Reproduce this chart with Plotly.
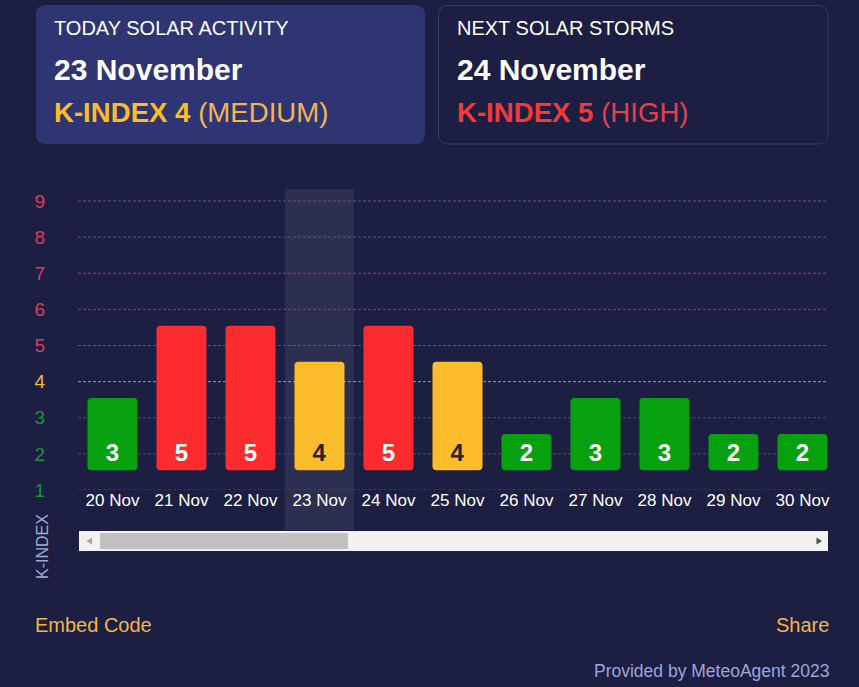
import plotly.graph_objects as go

# ---------------- data ----------------
dates = ["20 Nov", "21 Nov", "22 Nov", "23 Nov", "24 Nov", "25 Nov",
         "26 Nov", "27 Nov", "28 Nov", "29 Nov", "30 Nov"]
k_index = [3, 5, 5, 4, 5, 4, 2, 3, 3, 2, 2]
today = "23 Nov"
y_ticks = [1, 2, 3, 4, 5, 6, 7, 8, 9]

today_title = "TODAY SOLAR ACTIVITY"
today_date = "23 November"
today_k = 4
today_level = "MEDIUM"
next_title = "NEXT SOLAR STORMS"
next_date = "24 November"
next_k = 5
next_level = "HIGH"

# ---------------- style ----------------
FONT = "Liberation Sans, Arial, sans-serif"
BG = "#1c1f42"
CARD = "#2f3572"
CARD_BORDER = "#353a6c"
GREEN, YELLOW, RED = "#07a00f", "#fcbc2c", "#fc2b2e"
TICK_GREEN, TICK_YELLOW, TICK_RED = "#1f8f3f", "#f5b941", "#dc3c5a"
GRID_LOW, GRID_MED, GRID_HIGH = "#4a4e76", "#9597b3", "#80447a"

FIG_W, FIG_H = 859, 687
M_L, M_R, M_T, M_B = 78, 31, 189, 197
PW = FIG_W - M_L - M_R
PH = FIG_H - M_T - M_B
PLOT_BOTTOM = FIG_H - M_B

Y_RANGE = [1, 9.332]
BAR_SHIFT = 0.55
BAR_BASE = 1
X_RANGE = [-0.5, 10.37]


def level(k):
    return "low" if k <= 3 else ("med" if k == 4 else "high")


bar_col = {"low": GREEN, "med": YELLOW, "high": RED}
txt_col = {"low": "#ffffff", "med": "#2a2420", "high": "#ffffff"}
tick_col = {"low": TICK_GREEN, "med": TICK_YELLOW, "high": TICK_RED}
grid_col = {"low": GRID_LOW, "med": GRID_MED, "high": GRID_HIGH}


def px(x):
    return (x - M_L) / PW


def py(y):
    return (PLOT_BOTTOM - y) / PH


def rrect(x0, y0, x1, y1, r):
    pts = [
        ("M", [(x0 + r, y0)]), ("L", [(x1 - r, y0)]), ("Q", [(x1, y0), (x1, y0 + r)]),
        ("L", [(x1, y1 - r)]), ("Q", [(x1, y1), (x1 - r, y1)]),
        ("L", [(x0 + r, y1)]), ("Q", [(x0, y1), (x0, y1 - r)]),
        ("L", [(x0, y0 + r)]), ("Q", [(x0, y0), (x0 + r, y0)]),
    ]
    s = ""
    for cmd, ps in pts:
        s += cmd + " " + " ".join(f"{px(a):.5f},{py(b):.5f}" for a, b in ps) + " "
    return s + "Z"


def tri(points):
    return "M " + " L ".join(f"{px(a):.5f},{py(b):.5f}" for a, b in points) + " Z"


fig = go.Figure()

fig.add_trace(go.Bar(
    x=dates,
    y=[k - BAR_BASE for k in k_index],
    base=BAR_BASE,
    yaxis="y2",
    width=0.725,
    marker=dict(color=[bar_col[level(k)] for k in k_index], line=dict(width=0)),
    text=[str(k) for k in k_index],
    textposition="inside",
    insidetextanchor="start",
    textangle=0,
    constraintext="none",
    textfont=dict(family=FONT, size=24, weight="bold",
                  color=[txt_col[level(k)] for k in k_index]),
    hoverinfo="skip",
    showlegend=False,
))

shapes = []
# highlight band for today's column
ti = dates.index(today)
bx0 = (ti - 0.5 - X_RANGE[0]) / (X_RANGE[1] - X_RANGE[0])
bx1 = (ti + 0.5 - X_RANGE[0]) / (X_RANGE[1] - X_RANGE[0])
shapes.append(dict(type="rect", xref="paper", yref="paper", x0=bx0, x1=bx1,
                   y0=py(530), y1=1, fillcolor="rgba(255,255,255,0.075)",
                   line=dict(width=0), layer="below"))
# dashed gridlines coloured by level
for t in y_ticks:
    shapes.append(dict(type="line", xref="paper", yref="y", x0=0, x1=1, y0=t, y1=t,
                       line=dict(color=grid_col[level(t)], width=1, dash="3px,2px"),
                       layer="below"))
# cards
shapes.append(dict(type="path", xref="paper", yref="paper", path=rrect(36, 5, 425, 144, 10),
                   fillcolor=CARD, line=dict(width=0), layer="below"))
shapes.append(dict(type="path", xref="paper", yref="paper", path=rrect(438.5, 5.5, 828, 144, 10),
                   fillcolor="rgba(0,0,0,0)", line=dict(color=CARD_BORDER, width=1), layer="below"))
# scrollbar
shapes.append(dict(type="rect", xref="paper", yref="paper", x0=px(79), x1=px(828),
                   y0=py(551), y1=py(531), fillcolor="#f1f1f1", line=dict(width=0), layer="above"))
shapes.append(dict(type="rect", xref="paper", yref="paper", x0=px(100), x1=px(348),
                   y0=py(549), y1=py(533), fillcolor="#c1c1c1", line=dict(width=0), layer="above"))
shapes.append(dict(type="path", xref="paper", yref="paper",
                   path=tri([(86.5, 541), (92, 537.5), (92, 544.5)]),
                   fillcolor="#a3a3a3", line=dict(width=0), layer="above"))
shapes.append(dict(type="path", xref="paper", yref="paper",
                   path=tri([(822, 541), (816.5, 537.5), (816.5, 544.5)]),
                   fillcolor="#505050", line=dict(width=0), layer="above"))

annotations = []


def ann(text, x, y, size, color, xanchor="left", bold=False, angle=0):
    annotations.append(dict(
        text=f"<b>{text}</b>" if bold else text, xref="paper", yref="paper",
        x=px(x), y=py(y), xanchor=xanchor, yanchor="middle", showarrow=False,
        font=dict(family=FONT, size=size, color=color), textangle=angle))


ann(today_title, 52, 27.5, 20, "#ffffff")
ann(today_date, 52, 70, 30, "#ffffff", bold=True)
ann(f"<b>K-INDEX {today_k}</b> <span style='color:#f0b656'>({today_level})</span>",
    52, 113, 27.6, YELLOW)
ann(next_title, 455, 27.5, 20, "#ffffff")
ann(next_date, 455, 70, 30, "#ffffff", bold=True)
ann(f"<b>K-INDEX {next_k}</b> <span style='color:#e3404f'>({next_level})</span>",
    455, 113, 27.6, "#f23a3a")
ann("K-INDEX", 42, 547, 16, "#a3a9dc", xanchor="center", angle=-90)
ann("Embed Code", 33, 625, 20, "#f5b63f")
ann("Share", 831, 625, 20, "#f5b63f", xanchor="right")
ann("Provided by MeteoAgent 2023", 831, 671, 17.5, "#9ea5df", xanchor="right")

fig.update_layout(
    width=FIG_W, height=FIG_H,
    margin=dict(l=M_L, r=M_R, t=M_T, b=M_B, pad=0),
    paper_bgcolor=BG, plot_bgcolor="rgba(0,0,0,0)",
    font=dict(family=FONT, color="#ffffff"),
    showlegend=False,
    barcornerradius=4,
    shapes=shapes,
    annotations=annotations,
    xaxis=dict(type="category", range=X_RANGE, showgrid=False, zeroline=False,
               showline=False, ticks="", ticklabelstandoff=-2,
               tickfont=dict(family=FONT, size=17, color="#ffffff"),
               fixedrange=True),
    yaxis=dict(range=Y_RANGE, showgrid=False, zeroline=False, showline=False,
               tickmode="array", tickvals=y_ticks,
               ticktext=[f"<span style='color:{tick_col[level(t)]}'>{t}</span>" for t in y_ticks],
               ticks="outside", ticklen=28, tickcolor="rgba(0,0,0,0)",
               tickfont=dict(family=FONT, size=19), fixedrange=True),
    yaxis2=dict(range=[Y_RANGE[0] - BAR_SHIFT, Y_RANGE[1] - BAR_SHIFT], overlaying="y",
                visible=False, showgrid=False, zeroline=False, fixedrange=True),
)

fig.write_html(
    "out.html",
    config={"displayModeBar": False},
    post_script="document.body.style.margin='0';document.body.style.background='%s';" % BG,
)
